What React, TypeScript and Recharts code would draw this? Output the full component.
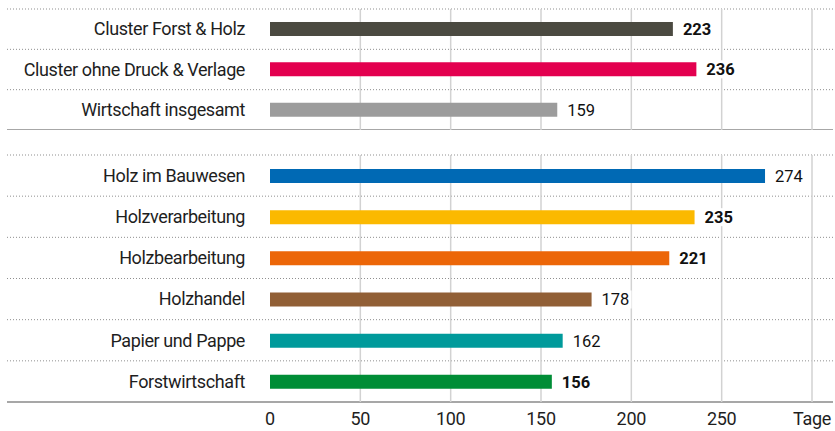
import { BarChart, Bar, XAxis, YAxis, CartesianGrid, Cell, LabelList } from 'recharts'

const topCategories = ['Cluster Forst & Holz', 'Cluster ohne Druck & Verlage', 'Wirtschaft insgesamt']
const topValues = [223, 236, 159]
const bottomCategories = ['Holz im Bauwesen', 'Holzverarbeitung', 'Holzbearbeitung', 'Holzhandel', 'Papier und Pappe', 'Forstwirtschaft']
const bottomValues = [274, 235, 221, 178, 162, 156]
const xTicks = [0, 50, 100, 150, 200, 250, 300]

const topColors = ['#4b4a41', '#e3004f', '#9c9c9c']
const bottomColors = ['#0069b4', '#fbb900', '#ec6608', '#915f36', '#009a9b', '#008d36']
const boldLabels = new Set([223, 236, 235, 221, 156])

const FONT = 'Roboto, sans-serif'
const W = 835

const topData = topCategories.map((name, i) => ({ name, value: topValues[i] }))
const bottomData = bottomCategories.map((name, i) => ({ name, value: bottomValues[i] }))

const rowBounds = ({ offset }: any, n: number) =>
  Array.from({ length: n + 1 }, (_, i) => offset.top + (i * offset.height) / n)

const rowLine = (n: number) => (props: any) => {
  const last = props.index === n
  return (
    <line
      key={`h-${props.index}`}
      x1={7}
      x2={W - 2}
      y1={props.y1}
      y2={props.y2}
      stroke={last ? '#8a8a8a' : '#8f8f8f'}
      strokeWidth={last ? 1.5 : 1}
      strokeDasharray={last ? undefined : '1 2'}
    />
  )
}

// no grid line at zero
const colLine = (props: any) =>
  props.index === 0 ? <g key="v-0" /> : (
    <line key={`v-${props.index}`} x1={props.x1} x2={props.x2} y1={props.y1} y2={props.y2}
      stroke="#d2d2d2" strokeWidth={1.5} />
  )

const CategoryTick = ({ x, y, payload }: any) => (
  <text x={x} y={y} dy="0.35em" textAnchor="end" fill="#1e1e1e" fontSize={18}
    letterSpacing={-0.4} fontFamily={FONT}>
    {payload.value}
  </text>
)

const ValueLabel = ({ x, y, width, height, value }: any) => {
  const tx = x + width + 10
  const cy = y + height / 2
  const w = String(value).length * 9 + 6
  return (
    <g>
      <rect x={tx - 3} y={cy - 9} width={w} height={18} fill="#fff" />
      <text x={tx} y={cy} dy="0.36em" fontSize={16.5} fontFamily={FONT} fill="#111"
        fontWeight={boldLabels.has(value) ? 700 : 400}>
        {value}
      </text>
    </g>
  )
}

function Panel({ data, colors, height, marginTop, showAxis }: any) {
  const n = data.length
  return (
    <BarChart layout="vertical" width={W} height={height} data={data}
      margin={{ top: marginTop, right: 23, bottom: 0, left: 0 }} barSize={14}>
      <CartesianGrid
        horizontalCoordinatesGenerator={(p: any) => rowBounds(p, n)}
        horizontal={rowLine(n)}
        vertical={colLine}
      />
      <XAxis type="number" domain={[0, 300]} ticks={xTicks} hide={!showAxis} height={showAxis ? 29 : 0}
        axisLine={false} tickLine={false} tickSize={0} tickMargin={10} interval={0}
        tick={{ fill: '#1e1e1e', fontSize: 18, fontFamily: FONT, letterSpacing: -0.3 }}
        tickFormatter={v => (v === 300 ? 'Tage' : String(v))} />
      <YAxis type="category" dataKey="name" width={270} axisLine={false} tickLine={false}
        tickSize={0} tickMargin={25} tick={<CategoryTick />} interval={0} />
      <Bar dataKey="value" isAnimationActive={false}>
        {data.map((_: any, i: number) => (
          <Cell key={i} fill={colors[i]} />
        ))}
        <LabelList dataKey="value" content={<ValueLabel />} />
      </Bar>
    </BarChart>
  )
}

export default function App() {
  return (
    <div style={{ position: 'absolute', left: 0, top: 0, width: W, height: 431, background: '#fff' }}>
      <div style={{ position: 'absolute', left: 0, top: 0 }}>
        <Panel data={topData} colors={topColors} height={130} marginTop={9} showAxis={false} />
      </div>
      <div style={{ position: 'absolute', left: 0, top: 130 }}>
        <Panel data={bottomData} colors={bottomColors} height={301} marginTop={25} showAxis={true} />
      </div>
    </div>
  )
}
